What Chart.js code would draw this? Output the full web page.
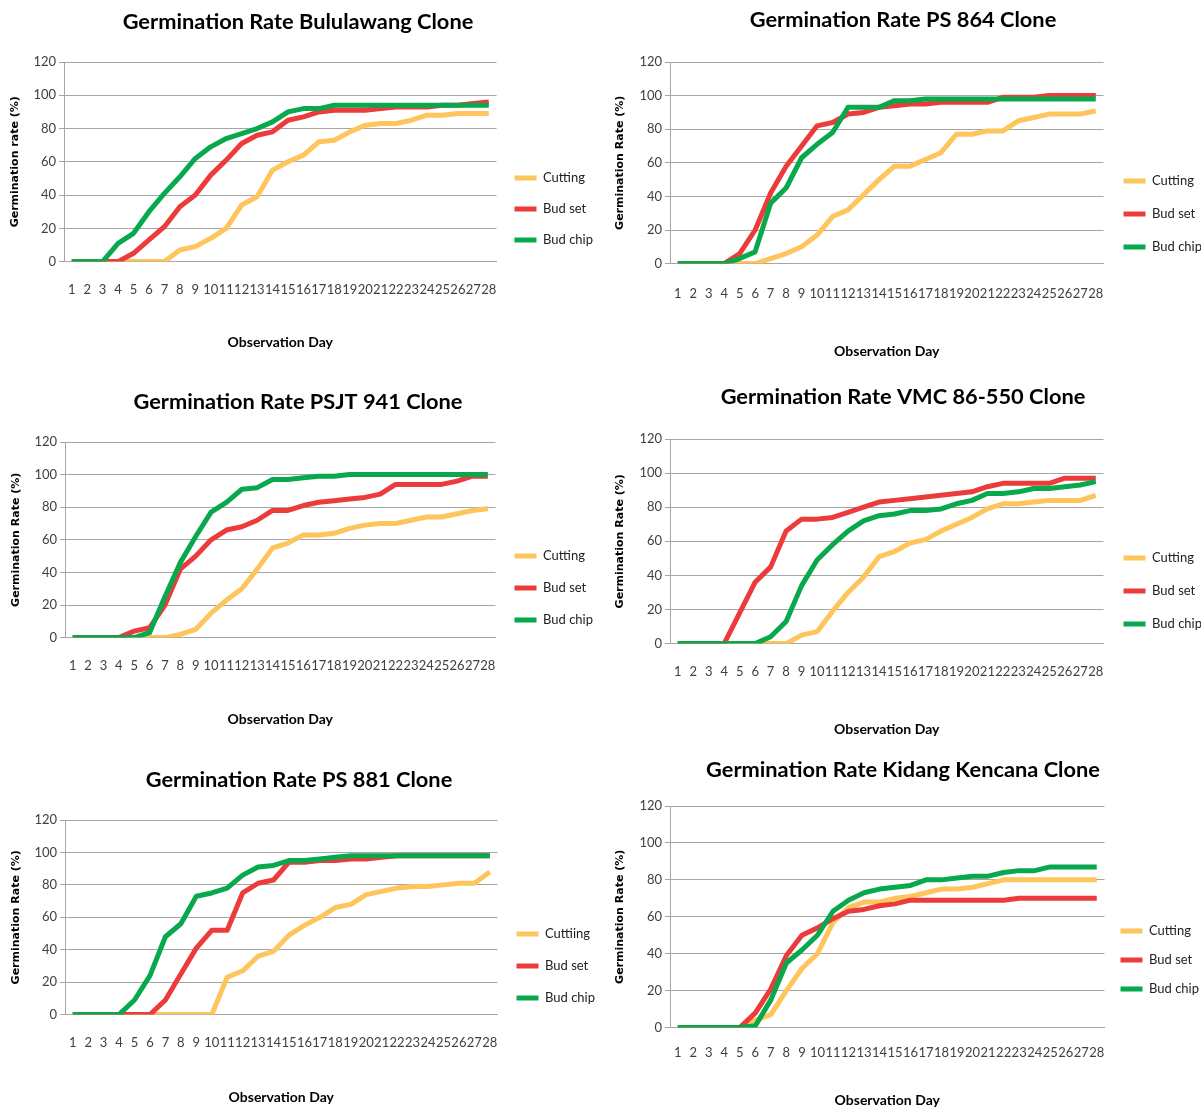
<!DOCTYPE html>
<html>
<head>
<meta charset="utf-8">
<title>Germination Rate</title>
<script src="https://cdn.jsdelivr.net/npm/chart.js@4.4.1/dist/chart.umd.min.js"></script>
<style>
  html, body { margin: 0; padding: 0; background: #fff; overflow: hidden; }
  #page { position: relative; width: 1201px; height: 1110px; overflow: hidden; background: #fff; }
  .panel { position: absolute; }
</style>
</head>
<body>
<div id="page"></div>
<script>
// -------------------------------
// Data
// -------------------------------
const days = ["1","2","3","4","5","6","7","8","9","10","11","12","13","14",
  "15","16","17","18","19","20","21","22","23","24","25","26","27","28"];
const yTicks = [0, 20, 40, 60, 80, 100, 120];

const seriesNames = ["Cutting", "Bud set", "Bud chip"];
const seriesNamesPS881 = ["Cuttiing", "Bud set", "Bud chip"];

const bululawangCutting = [0,0,0,0,0,0,0,7,9,14,20,34,39,55,60,64,72,73,78,82,83,83,85,88,88,89,89,89];
const bululawangBudSet  = [0,0,0,0,5,13,21,33,40,52,61,71,76,78,85,87,90,91,91,91,92,93,93,93,94,94,95,96];
const bululawangBudChip = [0,0,0,11,17,30,41,51,62,69,74,77,80,84,90,92,92,94,94,94,94,94,94,94,94,94,94,94];

const ps864Cutting = [0,0,0,0,0,0,3,6,10,17,28,32,41,50,58,58,62,66,77,77,79,79,85,87,89,89,89,91];
const ps864BudSet  = [0,0,0,0,6,20,42,58,70,82,84,89,90,93,94,95,95,96,96,96,96,99,99,99,100,100,100,100];
const ps864BudChip = [0,0,0,0,3,7,36,45,63,71,78,93,93,93,97,97,98,98,98,98,98,98,98,98,98,98,98,98];

const psjt941Cutting = [0,0,0,0,0,0,0,2,5,15,23,30,42,55,58,63,63,64,67,69,70,70,72,74,74,76,78,79];
const psjt941BudSet  = [0,0,0,0,4,6,20,42,50,60,66,68,72,78,78,81,83,84,85,86,88,94,94,94,94,96,99,99];
const psjt941BudChip = [0,0,0,0,0,3,25,46,62,77,83,91,92,97,97,98,99,99,100,100,100,100,100,100,100,100,100,100];

const vmcCutting = [0,0,0,0,0,0,0,0,5,7,19,30,39,51,54,59,61,66,70,74,79,82,82,83,84,84,84,87];
const vmcBudSet  = [0,0,0,0,18,36,45,66,73,73,74,77,80,83,84,85,86,87,88,89,92,94,94,94,94,97,97,97];
const vmcBudChip = [0,0,0,0,0,0,4,13,34,49,58,66,72,75,76,78,78,79,82,84,88,88,89,91,91,92,93,95];

const ps881Cutting = [0,0,0,0,0,0,0,0,0,0,23,27,36,39,49,55,60,66,68,74,76,78,79,79,80,81,81,88];
const ps881BudSet  = [0,0,0,0,0,0,9,25,41,52,52,75,81,83,94,94,95,95,96,96,97,98,98,98,98,98,98,98];
const ps881BudChip = [0,0,0,0,9,24,48,56,73,75,78,86,91,92,95,95,96,97,98,98,98,98,98,98,98,98,98,98];

const kidangCutting = [0,0,0,0,0,4,7,20,32,40,57,65,68,68,70,71,73,75,75,76,78,80,80,80,80,80,80,80];
const kidangBudSet  = [0,0,0,0,0,8,21,39,50,54,59,63,64,66,67,69,69,69,69,69,69,69,70,70,70,70,70,70];
const kidangBudChip = [0,0,0,0,0,1,15,35,42,50,63,69,73,75,76,77,80,80,81,82,82,84,85,85,87,87,87,87];

// -------------------------------
// Styles
// -------------------------------
const colors = ["#FDC55B", "#EC3B3B", "#08A84C"];
const FONT = "Lato, 'Liberation Sans', sans-serif";
const gridColor = "#a6a6a6";
const tickColor = "#404040";
const legendSize = 13;
const lineW = 22;
const titleSize = 21.8;

// panel placement: box position and, inside each box, plot edges, title/legend/axis offsets
const panels = [
  { title: "Germination Rate Bululawang Clone", yTitle: "Germination rate (%)", names: seriesNames,
    values: [bululawangCutting, bululawangBudSet, bululawangBudChip],
    left: 0, top: 0, plotLeft: 64, plotRight: 496, plotH: 220, yTitleX: 15, titleX: 298, titleCenter: 22,
    legendPad: 18, legendFirst: 178, xTickPad: 20, xTitlePad: 17 },
  { title: "Germination Rate PS 864 Clone", yTitle: "Germination Rate (%)", names: seriesNames,
    values: [ps864Cutting, ps864BudSet, ps864BudChip],
    left: 600, top: 0, plotLeft: 70, plotRight: 503, plotH: 224, yTitleX: 20, titleX: 303, titleCenter: 20,
    legendPad: 20, legendFirst: 181, xTickPad: 22, xTitlePad: 20 },
  { title: "Germination Rate PSJT 941 Clone", yTitle: "Germination Rate (%)", names: seriesNames,
    values: [psjt941Cutting, psjt941BudSet, psjt941BudChip],
    left: 0, top: 380, plotLeft: 65, plotRight: 495, plotH: 216, yTitleX: 16, titleX: 298, titleCenter: 22,
    legendPad: 19, legendFirst: 176, xTickPad: 20, xTitlePad: 18 },
  { title: "Germination Rate VMC 86-550 Clone", yTitle: "Germination Rate (%)", names: seriesNames,
    values: [vmcCutting, vmcBudSet, vmcBudChip],
    left: 600, top: 377, plotLeft: 70, plotRight: 503, plotH: 225, yTitleX: 20, titleX: 303, titleCenter: 20,
    legendPad: 20, legendFirst: 181, xTickPad: 20, xTitlePad: 22 },
  { title: "Germination Rate PS 881 Clone", yTitle: "Germination Rate (%)", names: seriesNamesPS881,
    values: [ps881Cutting, ps881BudSet, ps881BudChip],
    left: 0, top: 758, plotLeft: 65, plotRight: 497, plotH: 215, yTitleX: 16, titleX: 299, titleCenter: 22,
    legendPad: 19, legendFirst: 176, xTickPad: 20, xTitlePad: 19 },
  { title: "Germination Rate Kidang Kencana Clone", yTitle: "Germination Rate (%)", names: seriesNames,
    values: [kidangCutting, kidangBudSet, kidangBudChip],
    left: 600, top: 744, plotLeft: 70, plotRight: 504, plotH: 239, yTitleX: 20, titleX: 303, titleCenter: 26,
    legendPad: 16, legendFirst: 187, xTickPad: 17, xTitlePad: 15 }
];

const page = document.getElementById("page");
const measureCtx = document.createElement("canvas").getContext("2d");

function textWidth(text, size) {
  measureCtx.font = size + "px " + FONT;
  return measureCtx.measureText(text).width;
}

// -------------------------------
// Build one chart per clone
// -------------------------------
function makeChart(p) {
  const maxText = Math.max(...p.names.map((n) => textWidth(n, legendSize)));
  const width = Math.ceil(p.plotRight + p.legendPad + lineW + legendSize / 2 + maxText + 10);
  const height = Math.round(62 + p.plotH + p.xTickPad + 13 * 1.2 + p.xTitlePad + 14 * 1.2 + 4);
  const titleLine = titleSize * 1.2;
  const titleTop = p.titleCenter - titleLine / 2;
  // the title is centred on the layout box, so shift the box's left edge to put it where the reference has it
  const padLeft = 2 * p.titleX - width;
  // spacer above the legend items so the first one sits where the reference has it
  const legendSpacer = p.legendFirst - p.legendPad - legendSize / 2 - 1.2;

  const box = document.createElement("div");
  box.className = "panel";
  box.style.left = p.left + "px";
  box.style.top = p.top + "px";
  box.style.width = width + "px";
  box.style.height = height + "px";
  const canvas = document.createElement("canvas");
  box.appendChild(canvas);
  page.appendChild(box);

  new Chart(canvas, {
    type: "line",
    data: {
      labels: days,
      datasets: p.values.map((vals, i) => ({
        label: p.names[i],
        data: vals,
        borderColor: colors[i],
        backgroundColor: colors[i],
        borderWidth: 5,
        borderJoinStyle: "round",
        pointRadius: 0,
        tension: 0,
        fill: false,
        order: 3 - i,
      })),
    },
    options: {
      responsive: true,
      maintainAspectRatio: false,
      animation: false,
      layout: { padding: { left: padLeft, top: 0, right: 0, bottom: 0 } },
      plugins: {
        title: {
          display: true,
          text: p.title,
          color: "#000",
          font: { family: FONT, size: titleSize, weight: "bold" },
          padding: { top: titleTop, bottom: 62 - titleTop - titleLine },
        },
        legend: {
          position: "right",
          align: "start",
          title: { display: true, text: "", font: { size: 1 }, padding: { top: legendSpacer, bottom: 0 } },
          labels: {
            usePointStyle: true,
            pointStyle: "line",
            pointStyleWidth: lineW,
            padding: p.legendPad,
            color: "#222",
            font: { family: FONT, size: legendSize },
            sort: (a, b) => a.datasetIndex - b.datasetIndex,
          },
        },
        tooltip: { enabled: false },
      },
      scales: {
        x: {
          offset: true,
          grid: { display: false, drawTicks: false },
          border: { color: gridColor },
          ticks: {
            autoSkip: false, maxRotation: 0, minRotation: 0,
            padding: p.xTickPad, color: tickColor,
            font: { family: FONT, size: 13 },
          },
          title: {
            display: true,
            text: "Observation Day",
            color: "#000",
            font: { family: FONT, size: 14, weight: "bold" },
            padding: { top: p.xTitlePad, bottom: 4 },
          },
        },
        y: {
          min: yTicks[0],
          max: yTicks[yTicks.length - 1],
          afterBuildTicks: (s) => { s.ticks = yTicks.map((v) => ({ value: v })); },
          afterFit: (s) => { s.width = p.plotLeft - padLeft; },
          grid: { color: gridColor, tickLength: 5 },
          border: { color: gridColor },
          ticks: { padding: 3, color: tickColor, font: { family: FONT, size: 13 } },
          title: {
            display: true,
            text: p.yTitle,
            color: "#000",
            font: { family: "'DejaVu Sans', Verdana, sans-serif", size: 11, weight: "bold" },
            padding: { top: p.yTitleX - padLeft - 6.6, bottom: 0 },
          },
        },
      },
    },
  });
}

panels.forEach(makeChart);
</script>
</body>
</html>
